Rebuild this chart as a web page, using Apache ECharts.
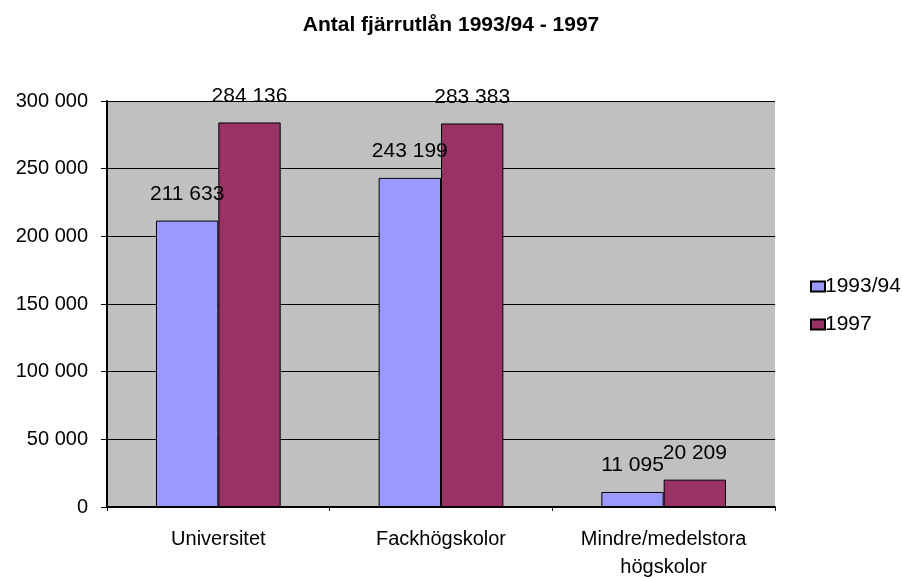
<!DOCTYPE html>
<html><head><meta charset="utf-8">
<script src="https://cdn.jsdelivr.net/npm/echarts@6/dist/echarts.min.js"></script>
<style>html,body{margin:0;padding:0;background:#fff}#c{width:902px;height:578px}</style>
</head><body><div id="c"></div>
<script>
const categories = ['Universitet', 'Fackhögskolor', 'Mindre/medelstora\nhögskolor'];
const seriesNames = ['1993/94', '1997'];
const values9394 = [211633, 243199, 11095];
const values1997 = [284136, 283383, 20209];
const yTicks = [0, 50000, 100000, 150000, 200000, 250000, 300000];

function fmt(v){ return String(v).replace(/\B(?=(\d{3})+(?!\d))/g, ' '); }

const chart = echarts.init(document.getElementById('c'), null, {renderer:'canvas'});
const font = 'Liberation Sans, Arial, sans-serif';
chart.setOption({
  animation:false,
  backgroundColor:'#fff',
  title:{text:'Antal fjärrutlån 1993/94 - 1997', left:'center', top:10,
    textStyle:{fontFamily:font, fontSize:21, fontWeight:'bold', color:'#000'}},
  legend:{orient:'vertical', left:805, top:271, itemGap:17, itemWidth:14, itemHeight:10,
    icon:'rect', data:seriesNames,
    textStyle:{fontFamily:font, fontSize:21, color:'#000', padding:[0,0,0,-5]}},
  grid:{left:107, right:127, top:101, bottom:71, show:true, backgroundColor:'#C0C0C0', borderWidth:0,
    outerBoundsMode:'none', containLabel:false},
  xAxis:{type:'category', data:categories,
    axisLine:{lineStyle:{color:'#000', width:2}},
    axisTick:{show:true, alignWithLabel:false, length:4, lineStyle:{color:'#000'}},
    axisLabel:{fontFamily:font, fontSize:20, color:'#000', margin:18, lineHeight:28}},
  yAxis:{type:'value', min:0, max:300000, interval:50000,
    axisLine:{show:true, lineStyle:{color:'#000', width:2}},
    axisTick:{show:true, length:6, lineStyle:{color:'#000'}},
    splitLine:{show:true, lineStyle:{color:'#000', width:1.2}},
    axisLabel:{fontFamily:font, fontSize:20, color:'#000', margin:19,
      formatter:function(v){ return yTicks.indexOf(v)>=0 ? fmt(v) : ''; }}},
  series:[
    {name:seriesNames[0], type:'bar', data:values9394, barGap:'0%', barCategoryGap:'44%',
      itemStyle:{color:'#9999FF', borderColor:'#000', borderWidth:1},
      label:{show:true, position:'top', distance:16, fontFamily:font, fontSize:21, color:'#000',
        formatter:p=>fmt(p.value)}},
    {name:seriesNames[1], type:'bar', data:values1997, barGap:'0%', barCategoryGap:'44%',
      itemStyle:{color:'#993366', borderColor:'#000', borderWidth:1},
      label:{show:true, position:'top', distance:16, fontFamily:font, fontSize:21, color:'#000',
        formatter:p=>fmt(p.value)}}
  ]
});
</script></body></html>
